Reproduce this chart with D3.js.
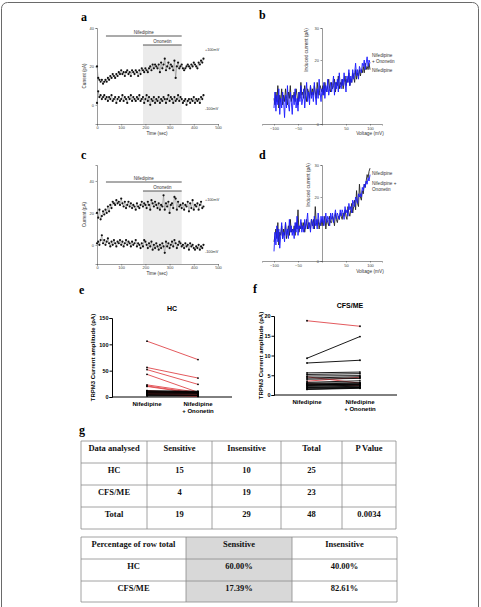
<!DOCTYPE html>
<html>
<head>
<meta charset="utf-8">
<script src="https://cdn.jsdelivr.net/npm/d3@7"></script>
<style>
  body { margin: 0; background: #fff; }
  svg { display: block; font-family: "Liberation Sans", Arial, sans-serif; }
</style>
</head>
<body>
<script>
// ---- data ----
let timeStep = 5; // sec between sweeps

let aUpper = [20,14,13,12,13,11,12,13,12,14,13,15,14,16,15,14,16,15,17,16,18,16,17,15,17,18,16,17,15,18,17,16,18,17,15,18,16,19,18,17,19,18,17,19,20,18,21,19,21,20,19,21,17,22,19,21,24,18,20,22,19,21,20,18,23,14,20,22,19,20,21,19,18,19,20,21,20,19,21,20,22,21,20,19,22,21,23,22,24];
let aLower = [1,7,4,5,3,4,5,3,4,2,4,3,5,2,3,4,1,3,4,2,3,5,2,4,3,1,4,3,5,2,4,3,2,4,3,5,2,3,4,1,3,5,2,4,0,3,2,4,1,3,2,4,1,3,2,4,3,1,3,5,2,4,3,1,4,2,3,5,2,4,3,1,2,3,0,2,3,1,3,2,4,1,3,2,3,1,4,3,5];
let cUpper = [20,17,22,16,18,21,19,22,20,24,21,25,23,27,26,25,28,26,27,25,29,26,24,27,23,25,27,24,26,23,25,24,22,26,24,23,25,27,24,26,25,23,27,25,22,28,26,24,27,25,23,26,22,25,24,31,22,26,24,27,20,25,26,23,30,29,22,27,24,25,23,26,22,25,24,27,21,26,23,28,22,25,24,26,22,25,27,23,24];
let cLower = [1,2,0,3,6,1,3,0,2,4,1,-1,2,0,3,1,-1,2,1,3,0,2,-1,1,3,0,2,1,-1,2,0,1,3,-1,1,0,-2,1,-1,3,2,0,-2,1,-1,2,-3,0,-2,1,-1,-3,0,-2,1,-1,-5,2,-1,1,-2,0,2,-1,3,1,-2,0,2,1,-1,0,-2,1,-1,0,-3,1,-1,0,-2,-3,-1,-2,0,-3,-1,-2,0];

let nifedipineOn = [37, 350];
let ononetinOn = [190, 350];

// I-V ramps, -100 to +100 mV, 2 mV steps
let bOnonetin = [5,10,4,9,6,11,3,8,5,10, 7,2,9,5,12,6,4,10,7,3, 9,6,11,5,8,4,10,7,12,6, 8,11,5,9,13,7,10,6,12,8, 10,7,13,9,6,11,8,14,10,7, 11,9,13,8,12,10,14,9,11,13, 10,12,15,9,13,11,14,10,16,12, 11,14,12,16,13,10,15,13,17,12, 15,13,17,14,16,19,15,17,14,18, 17,16,19,18,20,17,19,21,18,20, 19];
let bNifedipine = [8,6,10,7,12,5,9,7,11,6, 9,7,11,8,6,10,8,12,7,9, 8,10,7,11,9,6,10,8,13,9, 10,8,12,9,7,11,10,8,12,9, 11,9,12,10,8,13,10,9,12,11, 10,12,9,13,11,10,12,14,11,10, 13,11,12,14,10,13,12,15,11,13, 12,14,11,13,15,12,14,13,16,12, 14,13,16,15,13,17,14,16,15,17, 15,17,16,18,16,19,17,18,17,19, 17];
let dOnonetin = [3,9,5,11,6,10,4,8,12,7, 9,6,12,8,10,7,13,9,11,8, 10,7,12,9,14,8,11,10,13,9, 11,9,13,10,12,15,10,12,9,13, 12,10,14,11,13,10,15,12,11,14, 12,14,11,13,15,12,14,13,11,15, 13,15,12,14,16,13,15,14,13,16, 14,16,15,13,17,15,16,14,18,16, 17,15,19,18,17,20,19,18,21,20, 21,20,23,22,24,23,25,24,26,25, 27];
let dNifedipine = [6,8,10,7,12,5,9,8,11,7, 10,8,12,7,9,11,8,13,9,10, 9,11,8,12,10,16,9,11,10,12, 10,12,9,11,13,10,12,11,10,13, 11,13,10,17,12,11,13,10,12,11, 13,11,12,14,10,13,12,11,14,12, 12,14,13,11,15,13,12,14,13,15, 14,13,15,14,16,14,13,17,15,14, 16,18,15,17,19,16,22,18,17,24, 20,19,22,21,24,23,25,27,26,28, 29];

let conditions = ["Nifedipine", "Nifedipine + Ononetin"];
// [nifedipine, nifedipine + ononetin] per cell
let hcSensitive = [[106,71],[56,36],[52,24],[43,9],[23,9],[21,7],[20,6],[12,6],[11,5],[10,4],[9,3],[8,3],[7,2],[6,2],[5,1]];
let hcInsensitive = [[12,11],[11,10],[10,9],[9,9],[8,8],[7,7],[5,6],[4,4],[3,3],[2,2]];
let cfsSensitive = [[18.8,17.4],[4.6,3.0],[3.5,4.5],[2.8,2.4]];
let cfsInsensitive = [[9.3,14.8],[8.1,8.8],[5.6,5.8],[5.2,5.4],[4.8,4.9],[4.3,4.6],[4.0,4.2],[3.2,3.6],[3.0,3.1],[2.8,3.0],[2.7,2.6],[2.5,2.8],[2.4,2.6],[2.2,2.5],[2.0,2.2],[1.9,2.0],[1.7,1.9],[1.5,1.8],[1.4,1.7]];

let countHeader = ["Data analysed", "Sensitive", "Insensitive", "Total", "P Value"];
let countRows = [["HC","15","10","25",""],["CFS/ME","4","19","23",""],["Total","19","29","48","0.0034"]];
let pctHeader = ["Percentage of row total", "Sensitive", "Insensitive"];
let pctRows = [["HC","60.00%","40.00%"],["CFS/ME","17.39%","82.61%"]];

// ---- drawing ----
let svg = d3.select("body").append("svg")
    .attr("width", 481)
    .attr("height", 607);

svg.append("rect")
    .attr("x", 1.5).attr("y", 2.5)
    .attr("width", 477).attr("height", 640)
    .attr("rx", 6)
    .attr("fill", "none")
    .attr("stroke", "#6a6a6a");

function panelLabel(t, x, y) {
    svg.append("text").text(t)
        .attr("x", x).attr("y", y)
        .style("font-family", "'Liberation Serif', serif")
        .style("font-weight", "bold")
        .style("font-size", "12px");
}

function smallText(t, x, y, size, anchor) {
    return svg.append("text").text(t)
        .attr("x", x).attr("y", y)
        .attr("text-anchor", anchor || "start")
        .style("font-size", size + "px")
        .attr("fill", "#333");
}

function styleThinAxis(g) {
    g.selectAll("path,line").attr("stroke", "#555").attr("stroke-width", 0.6);
    g.selectAll("text").style("font-size", "4px").attr("fill", "#444");
}

function timeCourse(upper, lower, yDomain, yRange, barY, upLabelV, lowLabelV) {
    let x = d3.scaleLinear().domain([0, 500]).range([97, 218]);
    let y = d3.scaleLinear().domain(yDomain).range(yRange);
    let axisY = yRange[0];

    // ononetin shading
    svg.append("rect")
        .attr("x", x(ononetinOn[0]))
        .attr("y", barY[1])
        .attr("width", x(ononetinOn[1]) - x(ononetinOn[0]))
        .attr("height", axisY - barY[1])
        .attr("fill", "#ebebeb");

    svg.append("g").attr("transform", "translate(0," + axisY + ")")
        .call(d3.axisBottom(x).tickValues([0,100,200,300,400,500]).tickSize(1.5).tickPadding(1))
        .call(styleThinAxis);
    svg.append("g").attr("transform", "translate(97,0)")
        .call(d3.axisLeft(y).tickValues([0,20,40]).tickSize(1.5).tickPadding(1.5))
        .call(styleThinAxis);

    smallText("Time (sec)", 157, axisY + 11, 4.5, "middle");
    smallText("Current (pA)", 0, 0, 4.5, "middle")
        .attr("transform", "translate(86," + ((yRange[0] + yRange[1]) / 2) + ") rotate(-90)");

    [[nifedipineOn, barY[0], "Nifedipine"], [ononetinOn, barY[1], "Ononetin"]].forEach(b => {
        svg.append("line")
            .attr("x1", x(b[0][0])).attr("x2", x(b[0][1]))
            .attr("y1", b[1]).attr("y2", b[1])
            .attr("stroke", "#444").attr("stroke-width", 0.9);
        smallText(b[2], (x(b[0][0]) + x(b[0][1])) / 2, b[1] - 2, 4.5, "middle");
    });

    let line = d3.line().x((d, i) => x(i * timeStep)).y(d => y(d));
    [upper, lower].forEach(s => {
        svg.append("path").datum(s)
            .attr("d", line)
            .attr("fill", "none")
            .attr("stroke", "#8a8a8a")
            .attr("stroke-width", 0.6);
        svg.append("g").selectAll("circle")
            .data(s).enter().append("circle")
            .attr("cx", (d, i) => x(i * timeStep))
            .attr("cy", d => y(d))
            .attr("r", 1.1)
            .attr("fill", "#111");
    });
    smallText("+100mV", x(446), y(upLabelV), 3.8);
    smallText("-100mV", x(446), y(lowLabelV), 3.8);
}

function ivPanel(blue, black, yRange, labels, xLabelY, yLabelPos) {
    let volts = d3.range(-100, 101, 2);
    let x = d3.scaleLinear().domain([-125, 125]).range([262, 382]);
    let y = d3.scaleLinear().domain([0, 30]).range(yRange);

    svg.append("g").attr("transform", "translate(0," + y(0) + ")")
        .call(d3.axisBottom(x).tickValues([-100,-50,0,50,100]).tickSize(1.5).tickPadding(1.5))
        .call(styleThinAxis)
        .call(g => g.selectAll(".tick").filter(d => d === 0).select("text").remove());
    svg.append("g").attr("transform", "translate(" + x(0) + ",0)")
        .call(d3.axisLeft(y).tickValues([0,20,30]).tickSize(1.5).tickPadding(1.5))
        .call(styleThinAxis);

    let line = d3.line().x((d, i) => x(volts[i])).y(d => y(d));
    svg.append("path").datum(black)
        .attr("d", line).attr("fill", "none")
        .attr("stroke", "#222").attr("stroke-width", 0.9);
    svg.append("path").datum(blue)
        .attr("d", line).attr("fill", "none")
        .attr("stroke", "#1a1aff").attr("stroke-width", 0.9);

    smallText("Voltage (mV)", 370, xLabelY, 4.8, "middle");
    smallText("Induced current (pA)", 0, 0, 4.8, "middle")
        .attr("transform", "translate(" + yLabelPos[0] + "," + yLabelPos[1] + ") rotate(-90)");
    labels.forEach(l => smallText(l[0], 372, l[1], 4.6));
}

function pairedPanel(sens, insens, yDomain, yRange, ticks, xRange, axisX, xEnd, title, titlePos, yLabelX) {
    let x = d3.scalePoint().domain(conditions).range(xRange);
    let y = d3.scaleLinear().domain(yDomain).range(yRange);

    let gy = svg.append("g").attr("transform", "translate(" + axisX + ",0)")
        .call(d3.axisLeft(y).tickValues(ticks).tickSize(2.5).tickPadding(1));
    gy.selectAll("text").style("font-size", "5.5px").style("font-weight", "bold");
    gy.selectAll("path,line").attr("stroke-width", 1);

    svg.append("line")
        .attr("x1", axisX).attr("x2", xEnd)
        .attr("y1", y(0)).attr("y2", y(0))
        .attr("stroke", "#000").attr("stroke-width", 1);

    [[sens, "#e0474c"], [insens, "#000"]].forEach(grp => {
        grp[0].forEach(p => {
            svg.append("line")
                .attr("x1", x(conditions[0])).attr("x2", x(conditions[1]))
                .attr("y1", y(p[0])).attr("y2", y(p[1]))
                .attr("stroke", grp[1]).attr("stroke-width", 0.9);
            svg.selectAll(null).data(p).enter().append("circle")
                .attr("cx", (d, i) => x(conditions[i]))
                .attr("cy", d => y(d))
                .attr("r", 0.9).attr("fill", "#000");
        });
    });

    svg.append("text").text(title)
        .attr("x", titlePos[0]).attr("y", titlePos[1])
        .attr("text-anchor", "middle")
        .style("font-size", "7px").style("font-weight", "bold");
    svg.append("text").text("TRPM3 Current amplitude (pA)")
        .attr("text-anchor", "middle")
        .attr("transform", "translate(" + yLabelX + "," + ((yRange[0] + yRange[1]) / 2) + ") rotate(-90)")
        .style("font-size", "6px").style("font-weight", "bold");

    let base = y(0);
    svg.append("text").text("Nifedipine")
        .attr("x", x(conditions[0])).attr("y", base + 8.5)
        .attr("text-anchor", "middle")
        .style("font-size", "6px").style("font-weight", "bold");
    svg.append("text").text("Nifedipine")
        .attr("x", x(conditions[1])).attr("y", base + 8.5)
        .attr("text-anchor", "middle")
        .style("font-size", "6px").style("font-weight", "bold");
    svg.append("text").text("+ Ononetin")
        .attr("x", x(conditions[1])).attr("y", base + 16)
        .attr("text-anchor", "middle")
        .style("font-size", "6px").style("font-weight", "bold");
}

function table(header, rows, cols, rowTops, shadeCol) {
    let g = svg.append("g")
        .style("font-family", "'Liberation Serif', serif")
        .style("font-weight", "bold")
        .style("font-size", "8.5px");
    if (shadeCol !== undefined) {
        g.append("rect")
            .attr("x", cols[shadeCol]).attr("y", rowTops[0])
            .attr("width", cols[shadeCol + 1] - cols[shadeCol])
            .attr("height", rowTops[rowTops.length - 1] - rowTops[0])
            .attr("fill", "#d8d8d8");
    }
    rowTops.forEach(r => {
        g.append("line").attr("x1", cols[0]).attr("x2", cols[cols.length - 1])
            .attr("y1", r).attr("y2", r)
            .attr("stroke", "#8c8c8c").attr("stroke-width", 0.8);
    });
    cols.forEach(c => {
        g.append("line").attr("x1", c).attr("x2", c)
            .attr("y1", rowTops[0]).attr("y2", rowTops[rowTops.length - 1])
            .attr("stroke", "#8c8c8c").attr("stroke-width", 0.8);
    });
    [header].concat(rows).forEach((row, ri) => {
        row.forEach((cell, ci) => {
            g.append("text").text(cell)
                .attr("x", (cols[ci] + cols[ci + 1]) / 2)
                .attr("y", rowTops[ri] + 10)
                .attr("text-anchor", "middle")
                .attr("fill", "#111");
        });
    });
}

panelLabel("a", 81, 21);
panelLabel("b", 259, 19);
panelLabel("c", 81, 159);
panelLabel("d", 259, 159);
panelLabel("e", 79, 294);
panelLabel("f", 253, 293);
panelLabel("g", 79, 434);

timeCourse(aUpper, aLower, [-10, 40], [124, 28], [36, 45], 28, -2.5);
timeCourse(cUpper, cLower, [-12, 50], [264, 165], [182, 191], 27.5, -5);

ivPanel(bOnonetin, bNifedipine, [124, 28],
    [["Nifedipine", 57], ["+ Ononetin", 63], ["Nifedipine", 72]], 135, [308, 50]);
ivPanel(dOnonetin, dNifedipine, [261, 165],
    [["Nifedipine", 175], ["Nifedipine +", 185], ["Ononetin", 191]], 273, [310, 185]);

pairedPanel(hcSensitive, hcInsensitive, [0, 150], [397, 318], [0,50,100,150],
    [147, 198], 112, 232, "HC", [172, 311], 95);
pairedPanel(cfsSensitive, cfsInsensitive, [0, 20], [395, 316], [0,5,10,15,20],
    [307, 360], 274, 397, "CFS/ME", [350, 308], 263);

table(countHeader, countRows, [81,147,212,281,342,396], [441,463,485,507,529]);
table(pctHeader, pctRows, [81,186,292,397], [537,559,581,602], 1);
</script>
</body>
</html>
